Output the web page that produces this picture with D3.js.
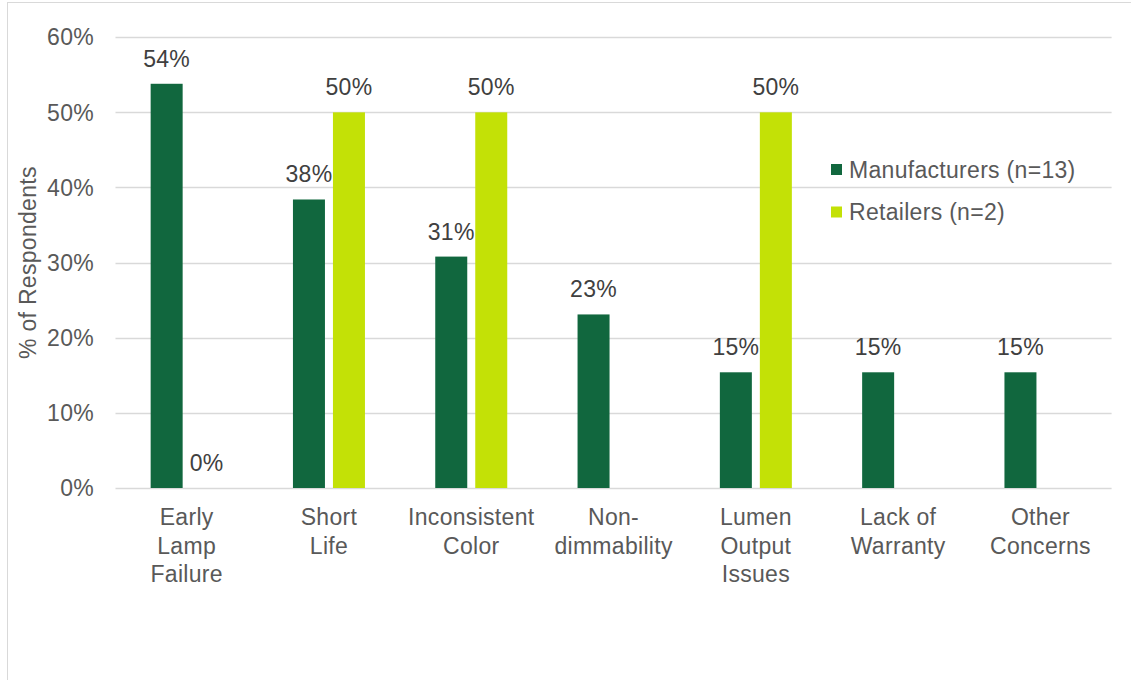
<!DOCTYPE html>
<html>
<head>
<meta charset="utf-8">
<script src="https://cdn.jsdelivr.net/npm/d3@7"></script>
<style>
  html, body { margin: 0; padding: 0; background: #ffffff; }
  svg { display: block; }
  text { font-family: "Liberation Sans", Arial, sans-serif; }
</style>
</head>
<body>
<svg id="chart" width="1131" height="680"></svg>
<script>
// Concerns reported by survey respondents
const categories = [
  "Early\nLamp\nFailure",
  "Short\nLife",
  "Inconsistent\nColor",
  "Non-\ndimmability",
  "Lumen\nOutput\nIssues",
  "Lack of\nWarranty",
  "Other\nConcerns"
];
const seriesNames = ["Manufacturers (n=13)", "Retailers (n=2)"];
const manufacturers = [53.8, 38.4, 30.8, 23.1, 15.4, 15.4, 15.4];
const retailers = [0, 50, 50, null, 50, null, null];
const yTicks = [0, 10, 20, 30, 40, 50, 60];
const yTitle = "% of Respondents";

const colors = ["#11673e", "#c3e106"];
const FONT = 23;
const SPACING = 0.3;
const svg = d3.select("#chart");

// outer chart frame
svg.append("rect")
  .attr("x", 7.5).attr("y", 2.5)
  .attr("width", 1140).attr("height", 700)
  .attr("fill", "none").attr("stroke", "#d9d9d9").attr("stroke-width", 1);

const plot = { left: 115.5, right: 1111.6, top: 37.2, bottom: 488 };

const x = d3.scaleBand()
  .domain(categories)
  .range([plot.left, plot.right])
  .paddingInner(0).paddingOuter(0);

const step = x.bandwidth();
const xs = d3.scaleBand()
  .domain(seriesNames)
  .range([(step - 72) / 2, (step + 72) / 2])
  .paddingInner(0.2).paddingOuter(0);

const y = d3.scaleLinear().domain([0, 60]).range([plot.bottom, plot.top]);

// gridlines
svg.append("g")
  .selectAll("line")
  .data(yTicks)
  .join("line")
  .attr("x1", plot.left).attr("x2", plot.right)
  .attr("y1", d => Math.round(y(d)) + 0.5).attr("y2", d => Math.round(y(d)) + 0.5)
  .attr("stroke", "#d9d9d9").attr("stroke-width", 1.3);

// y tick labels
svg.append("g")
  .selectAll("text")
  .data(yTicks)
  .join("text")
  .attr("x", 94)
  .attr("y", d => y(d))
  .attr("dy", "0.36em")
  .attr("text-anchor", "end")
  .attr("font-size", FONT)
  .attr("letter-spacing", SPACING)
  .attr("fill", "#595959")
  .text(d => d + "%");

// y axis title
svg.append("text")
  .attr("transform", `translate(36,${(plot.top + plot.bottom) / 2}) rotate(-90)`)
  .attr("text-anchor", "middle")
  .attr("font-size", FONT)
  .attr("letter-spacing", SPACING)
  .attr("fill", "#595959")
  .text(yTitle);

// bars
const series = [manufacturers, retailers];
const barData = [];
categories.forEach((c, i) => {
  series.forEach((vals, s) => {
    if (vals[i] !== null) barData.push({ cat: c, s, v: vals[i] });
  });
});

svg.append("g")
  .selectAll("rect")
  .data(barData)
  .join("rect")
  .attr("x", d => x(d.cat) + xs(seriesNames[d.s]))
  .attr("width", xs.bandwidth())
  .attr("y", d => y(d.v))
  .attr("height", d => y(0) - y(d.v))
  .attr("fill", d => colors[d.s]);

// value labels
svg.append("g")
  .selectAll("text")
  .data(barData)
  .join("text")
  .attr("x", d => x(d.cat) + xs(seriesNames[d.s]) + xs.bandwidth() / 2)
  .attr("y", d => y(d.v) - 17)
  .attr("text-anchor", "middle")
  .attr("font-size", FONT)
  .attr("letter-spacing", SPACING)
  .attr("fill", "#404040")
  .text(d => Math.round(d.v) + "%");

// category labels
const catG = svg.append("g")
  .selectAll("text")
  .data(categories)
  .join("text")
  .attr("text-anchor", "middle")
  .attr("font-size", FONT)
  .attr("letter-spacing", SPACING)
  .attr("fill", "#595959");
catG.each(function (d) {
  const t = d3.select(this);
  d.split("\n").forEach((line, k) => {
    t.append("tspan")
      .attr("x", x(d) + step / 2)
      .attr("y", 525 + k * 28.5)
      .text(line);
  });
});

// legend
const legend = svg.append("g")
  .selectAll("g")
  .data(seriesNames)
  .join("g")
  .attr("transform", (d, i) => `translate(831,${164 + i * 42.5})`);
legend.append("rect")
  .attr("width", 11).attr("height", 11)
  .attr("fill", (d, i) => colors[i]);
legend.append("text")
  .attr("x", 18).attr("y", 5.5)
  .attr("dy", "0.36em")
  .attr("font-size", FONT)
  .attr("letter-spacing", SPACING)
  .attr("fill", "#595959")
  .text(d => d);
</script>
</body>
</html>
